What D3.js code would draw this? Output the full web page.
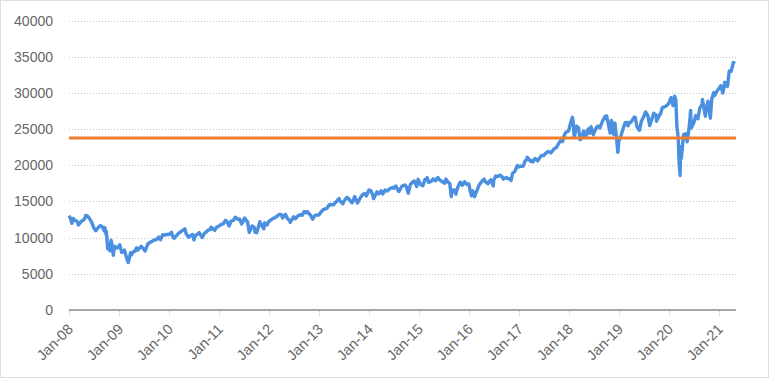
<!DOCTYPE html>
<html>
<head>
<meta charset="utf-8">
<script src="https://cdn.jsdelivr.net/npm/d3@7"></script>
<style>
  body { margin: 0; background: #fff; }
  svg { display: block; }
  text { font-family: "Liberation Sans", Arial, sans-serif; fill: #666; }
</style>
</head>
<body>
<figure id="chart" style="margin:0"></figure>
<script>
const obsDates = [
  "2008-01-02","2008-01-15","2008-01-22","2008-01-31","2008-02-15","2008-02-29","2008-03-10","2008-03-31",
  "2008-04-15","2008-04-30","2008-05-02","2008-05-15","2008-05-30","2008-06-15","2008-06-30","2008-07-15",
  "2008-07-31","2008-08-15","2008-08-29","2008-09-15","2008-09-19","2008-09-29","2008-09-30","2008-10-10",
  "2008-10-15","2008-10-27","2008-10-31","2008-11-04","2008-11-20","2008-11-28","2008-12-15","2008-12-31",
  "2009-01-06","2009-01-20","2009-01-30","2009-02-09","2009-02-27","2009-03-09","2009-03-26","2009-03-31",
  "2009-04-15","2009-04-30","2009-05-08","2009-05-15","2009-05-29","2009-06-12","2009-06-30","2009-07-10",
  "2009-07-31","2009-08-14","2009-08-31","2009-09-15","2009-09-30","2009-10-19","2009-10-30","2009-11-16",
  "2009-11-30","2009-12-15","2009-12-31",
  "2010-01-19","2010-01-29","2010-02-08","2010-02-26","2010-03-15","2010-03-31","2010-04-26","2010-04-30",
  "2010-05-06","2010-05-25","2010-05-28","2010-06-21","2010-06-30","2010-07-02","2010-07-15","2010-07-30",
  "2010-08-09","2010-08-31","2010-09-15","2010-09-30","2010-10-15","2010-10-29","2010-11-05","2010-11-30",
  "2010-12-15","2010-12-31",
  "2011-01-14","2011-01-31","2011-02-18","2011-02-28","2011-03-16","2011-03-31","2011-04-15","2011-04-29",
  "2011-05-02","2011-05-16","2011-05-31","2011-06-15","2011-06-30","2011-07-07","2011-07-29","2011-08-10",
  "2011-08-31","2011-09-15","2011-09-22","2011-09-30","2011-10-03","2011-10-27","2011-10-31","2011-11-25",
  "2011-11-30","2011-12-19","2011-12-30",
  "2012-01-13","2012-01-31","2012-02-15","2012-02-29","2012-03-15","2012-03-30","2012-04-10","2012-04-30",
  "2012-05-15","2012-05-31","2012-06-04","2012-06-29","2012-07-12","2012-07-31","2012-08-15","2012-08-31",
  "2012-09-14","2012-09-28","2012-10-05","2012-10-31","2012-11-15","2012-11-30","2012-12-14","2012-12-31",
  "2013-01-15","2013-01-31","2013-02-15","2013-02-28","2013-03-15","2013-03-28","2013-04-18","2013-04-30",
  "2013-05-28","2013-05-31","2013-06-24","2013-06-28","2013-07-22","2013-07-31","2013-08-15","2013-08-30",
  "2013-09-18","2013-09-30","2013-10-08","2013-10-31","2013-11-15","2013-11-29","2013-12-13","2013-12-31",
  "2014-01-15","2014-01-31","2014-02-03","2014-02-28","2014-03-14","2014-03-31","2014-04-11","2014-04-30",
  "2014-05-15","2014-05-30","2014-06-20","2014-06-30","2014-07-16","2014-07-31","2014-08-07","2014-08-29",
  "2014-09-19","2014-09-30","2014-10-15","2014-10-31","2014-11-14","2014-11-28","2014-12-16","2014-12-26",
  "2014-12-31",
  "2015-01-15","2015-01-30","2015-02-13","2015-02-27","2015-03-02","2015-03-11","2015-03-31","2015-04-15",
  "2015-04-30","2015-05-19","2015-05-29","2015-06-15","2015-06-30","2015-07-08","2015-07-17","2015-07-31",
  "2015-08-14","2015-08-25","2015-08-31","2015-09-15","2015-09-28","2015-09-30","2015-10-15","2015-10-30",
  "2015-11-13","2015-11-30","2015-12-14","2015-12-31",
  "2016-01-11","2016-01-20","2016-01-29","2016-02-11","2016-02-29","2016-03-15","2016-03-31","2016-04-20",
  "2016-04-29","2016-05-19","2016-05-31","2016-06-08","2016-06-27","2016-06-30","2016-07-15","2016-07-29",
  "2016-08-15","2016-08-31","2016-09-09","2016-09-30","2016-10-14","2016-10-31","2016-11-04","2016-11-15",
  "2016-11-30","2016-12-20","2016-12-30",
  "2017-01-13","2017-01-31","2017-02-15","2017-02-28","2017-03-01","2017-03-27","2017-03-31","2017-04-13",
  "2017-04-28","2017-05-17","2017-05-31","2017-06-15","2017-06-30","2017-07-14","2017-07-31","2017-08-10",
  "2017-08-21","2017-08-31","2017-09-15","2017-09-29","2017-10-16","2017-10-31","2017-11-15","2017-11-30",
  "2017-12-15","2017-12-29",
  "2018-01-12","2018-01-26","2018-01-31","2018-02-08","2018-02-27","2018-02-28","2018-03-12","2018-03-23",
  "2018-03-29","2018-04-02","2018-04-18","2018-04-30","2018-05-03","2018-05-21","2018-05-31","2018-06-11",
  "2018-06-28","2018-06-29","2018-07-17","2018-07-31","2018-08-15","2018-08-31","2018-09-21","2018-09-28",
  "2018-10-03","2018-10-29","2018-10-31","2018-11-07","2018-11-23","2018-11-30","2018-12-03","2018-12-24",
  "2018-12-31",
  "2019-01-15","2019-01-31","2019-02-15","2019-02-28","2019-03-08","2019-03-18","2019-03-29","2019-04-23",
  "2019-04-30","2019-05-13","2019-05-31","2019-06-14","2019-06-28","2019-07-15","2019-07-31","2019-08-14",
  "2019-08-30","2019-09-12","2019-09-30","2019-10-02","2019-10-28","2019-10-31","2019-11-15","2019-11-29",
  "2019-12-16","2019-12-31",
  "2020-01-17","2020-01-31","2020-02-12","2020-02-21","2020-02-28","2020-03-09","2020-03-16","2020-03-23",
  "2020-03-26","2020-03-31","2020-04-01","2020-04-17","2020-04-30","2020-05-13","2020-05-29","2020-06-08",
  "2020-06-11","2020-06-30","2020-07-15","2020-07-31","2020-08-14","2020-08-31","2020-09-02","2020-09-23",
  "2020-09-30","2020-10-12","2020-10-30","2020-11-09","2020-11-24","2020-11-30","2020-12-15","2020-12-31",
  "2021-01-14","2021-01-29","2021-02-12","2021-02-26","2021-03-04","2021-03-17","2021-03-31","2021-04-16",
  "2021-04-29"
];
const obsValues = [
  13044,12500,11971,12650,12350,12266,11740,12263,
  12400,12820,13058,12990,12638,12100,11350,10963,
  11378,11650,11544,10917,11388,10365,10851,8451,
  8578,8175,9325,9625,7552,8829,8565,8776,
  9015,7950,8000,8270,7063,6547,7925,7609,
  8029,8168,8575,8268,8500,8799,8447,8146,
  9172,9321,9496,9683,9712,10092,9713,10406,
  10345,10452,10428,
  10725,10067,9908,10325,10642,10857,11205,11009,
  10520,10043,10137,10442,9774,9686,10359,10466,
  10698,10014,10572,10788,11063,11118,11444,11006,
  11457,11578,
  11787,11892,12391,12226,11613,12320,12342,12811,
  12807,12548,12570,11897,12414,12719,12143,10720,
  11614,11433,10734,10913,10655,12209,11955,11231,
  12046,11766,12218,
  12422,12633,12781,12952,13194,13212,12716,13214,
  12633,12393,12101,12880,12605,13009,13164,13091,
  13593,13437,13610,13096,12542,13026,13135,13104,
  13534,13861,13981,14054,14514,14579,14537,14840,
  15409,15116,14660,14910,15545,15500,15112,14810,
  15676,15130,14776,15546,15962,16086,15755,16577,
  16481,15699,15372,16322,16065,16458,16027,16581,
  16447,16717,16947,16827,17138,16563,16368,17098,
  17280,17043,16142,17391,17634,17828,17068,18053,
  17823,
  17320,17165,18019,18133,18288,17635,17776,18112,
  17841,18312,18011,17791,17620,17515,18086,17690,
  17477,15666,16528,16600,16001,16285,17141,17664,
  17245,17720,17368,17425,
  16399,15766,16466,15660,16517,17251,17685,18096,
  17774,17436,17787,18006,17140,17930,18517,18432,
  18636,18401,18085,18308,18138,18142,17888,18923,
  19124,19974,19763,
  19886,19864,20611,20812,21115,20550,20663,20453,
  20940,20606,21009,21359,21350,21637,21891,21844,
  21703,21948,22268,22405,22956,23377,23271,24272,
  24651,24719,
  25803,26617,26149,23860,25410,25029,25179,23533,
  24103,23644,24749,24163,23930,25013,24416,25322,
  24217,24271,25120,25415,25162,25965,26744,26458,
  26828,24443,25116,26180,24286,25538,25826,21792,
  23327,
  24065,24999,25883,25916,25450,25914,25929,26656,
  26593,25324,24815,26090,26600,27359,26864,25480,
  26403,27182,26917,26078,27091,27046,28005,28051,
  28235,28538,
  29348,28256,29551,28992,25409,23851,20189,18591,
  22552,21917,20943,24242,24346,23248,25383,27572,
  25128,25813,26870,26428,27931,28430,29100,26763,
  27782,28838,26502,29158,30046,29638,30199,30606,
  30991,29983,31458,30932,30924,33015,32981,34200,
  34060
];
// horizontal reference level
const refLevel = [23750];
const yTicks = [0, 5000, 10000, 15000, 20000, 25000, 30000, 35000, 40000];
const xTickYears = d3.range(2008, 2022);

const width = 770, height = 379;
const plotLeft = 69, plotRight = 736, plotTop = 20.5, plotBottom = 310;

const parse = d3.timeParse("%Y-%m-%d");
const series = obsDates.map((d, i) => ({ date: parse(d), value: obsValues[i] }));

const svg = d3.select("figure#chart")
  .append("svg")
  .attr("width", width)
  .attr("height", height);

// outer dotted frame
svg.append("rect")
  .attr("x", 0.5).attr("y", 0.5)
  .attr("width", width - 2).attr("height", height - 2)
  .attr("fill", "none")
  .attr("stroke", "#bdbdbd")
  .attr("stroke-dasharray", "1,1");

const x = d3.scaleTime()
  .domain([new Date(2008, 0, 1), new Date(2021, 0, 1)])
  .range([plotLeft, plotLeft + 13 * 50]);

const y = d3.scaleLinear()
  .domain([0, 40000])
  .range([plotBottom, plotTop]);

// gridlines
svg.append("g")
  .selectAll("line")
  .data(yTicks.filter(d => d > 0))
  .enter()
  .append("line")
  .attr("x1", plotLeft).attr("x2", plotRight)
  .attr("y1", d => Math.round(y(d)) + 0.5)
  .attr("y2", d => Math.round(y(d)) + 0.5)
  .attr("stroke", "#c4c4c4")
  .attr("stroke-dasharray", "1,2");

// y labels
svg.append("g")
  .selectAll("text")
  .data(yTicks)
  .enter()
  .append("text")
  .attr("x", 53)
  .attr("y", d => y(d))
  .attr("dy", "0.36em")
  .attr("text-anchor", "end")
  .style("font-size", "14px")
  .text(d => d);

// x ticks
const tickDates = xTickYears.map(yr => new Date(yr, 0, 1));
svg.append("g")
  .selectAll("line")
  .data(tickDates)
  .enter()
  .append("line")
  .attr("x1", d => Math.round(x(d)) + 0.5)
  .attr("x2", d => Math.round(x(d)) + 0.5)
  .attr("y1", plotBottom + 1)
  .attr("y2", plotBottom + 6)
  .attr("stroke", "#c4c4c4")
  .attr("stroke-dasharray", "1,1");

svg.append("g")
  .selectAll("text")
  .data(tickDates)
  .enter()
  .append("text")
  .attr("text-anchor", "end")
  .attr("transform", d => "translate(" + (x(d) + 5) + "," + (plotBottom + 20) + ") rotate(-45)")
  .style("font-size", "14.5px")
  .text(d => d3.timeFormat("%b-%y")(d));

// baseline
svg.append("line")
  .attr("x1", plotLeft).attr("x2", plotRight)
  .attr("y1", plotBottom).attr("y2", plotBottom)
  .attr("stroke", "#a6a6a6")
  .attr("stroke-width", 2);

// index line
const line = d3.line()
  .x(d => x(d.date))
  .y(d => y(d.value));

svg.append("path")
  .datum(series)
  .attr("d", line)
  .attr("fill", "none")
  .attr("stroke", "#4a8fe0")
  .attr("stroke-width", 3.4)
  .attr("stroke-linejoin", "round");

// reference level
svg.append("g")
  .selectAll("line")
  .data(refLevel)
  .enter()
  .append("line")
  .attr("x1", plotLeft).attr("x2", plotRight)
  .attr("y1", d => y(d)).attr("y2", d => y(d))
  .attr("stroke", "#ed7d31")
  .attr("stroke-width", 3);
</script>
</body>
</html>
